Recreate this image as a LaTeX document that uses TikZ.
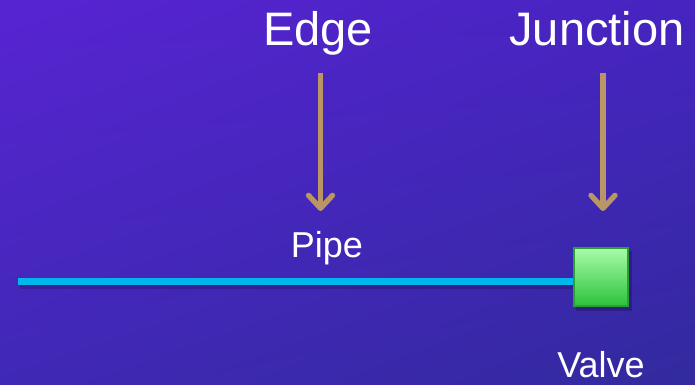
\documentclass[tikz,border=0pt]{standalone}
\usepackage{fontspec}
\setmainfont{Liberation Sans}
\usetikzlibrary{arrows.meta,shadings}
\definecolor{bgTL}{RGB}{88,36,210}
\definecolor{bgTR}{RGB}{70,36,192}
\definecolor{bgBL}{RGB}{64,40,182}
\definecolor{bgBR}{RGB}{50,42,158}
\definecolor{tancol}{RGB}{186,150,102}
\definecolor{pipecol}{RGB}{0,182,236}
\definecolor{gtop}{RGB}{168,252,168}
\definecolor{gbot}{RGB}{44,194,60}
\definecolor{gedge}{RGB}{40,160,52}
\tikzset{
  bigtext/.style={text=white, anchor=base, inner sep=0pt, font=\fontsize{47}{56}\selectfont},
  smalltext/.style={text=white, anchor=base, inner sep=0pt, font=\fontsize{36}{43}\selectfont},
  pointer/.style={draw=tancol, line width=5.3pt, -{Straight Barb[length=13pt,width=24pt,round]}},
  pipeline/.style={draw=pipecol, line width=7pt},
  valvebox/.style={draw=gedge, line width=1.8pt, minimum width=54pt, minimum height=58pt, inner sep=0pt, top color=gtop, bottom color=gbot},
}
\begin{document}
\begin{tikzpicture}[x=1pt,y=-1pt]
\useasboundingbox (0,0) rectangle (695,384);
\shade[upper left=bgTL, upper right=bgTR, lower left=bgBL, lower right=bgBR] (0,0) rectangle (695,384);
% labels
\node[bigtext] (edge) at (318,45.7) {Edge};
\node[bigtext] (junction) at (597,45.7) {Junction};
\node[smalltext] (pipe) at (327,257) {Pipe};
\node[smalltext] (valvelbl) at (601,377) {Valve};
% pointer coordinates
\coordinate (e1) at (320.5,73);
\coordinate (e2) at (320.5,211);
\coordinate (j1) at (603,73);
\coordinate (j2) at (603,211);
\draw[pointer] (e1) -- (e2);
\draw[pointer] (j1) -- (j2);
% pipe and valve
\coordinate (pipeL) at (18,281.5);
\fill[black, opacity=0.18] (20,284.5) rectangle (576,288.5);
\fill[black, opacity=0.22] (576,251) rectangle (632,311);
\node[valvebox] (valve) at (601,277) {};
\draw[pipeline] (pipeL) -- (pipeL -| valve.west);
\node[valvebox] at (601,277) {};
\end{tikzpicture}
\end{document}
